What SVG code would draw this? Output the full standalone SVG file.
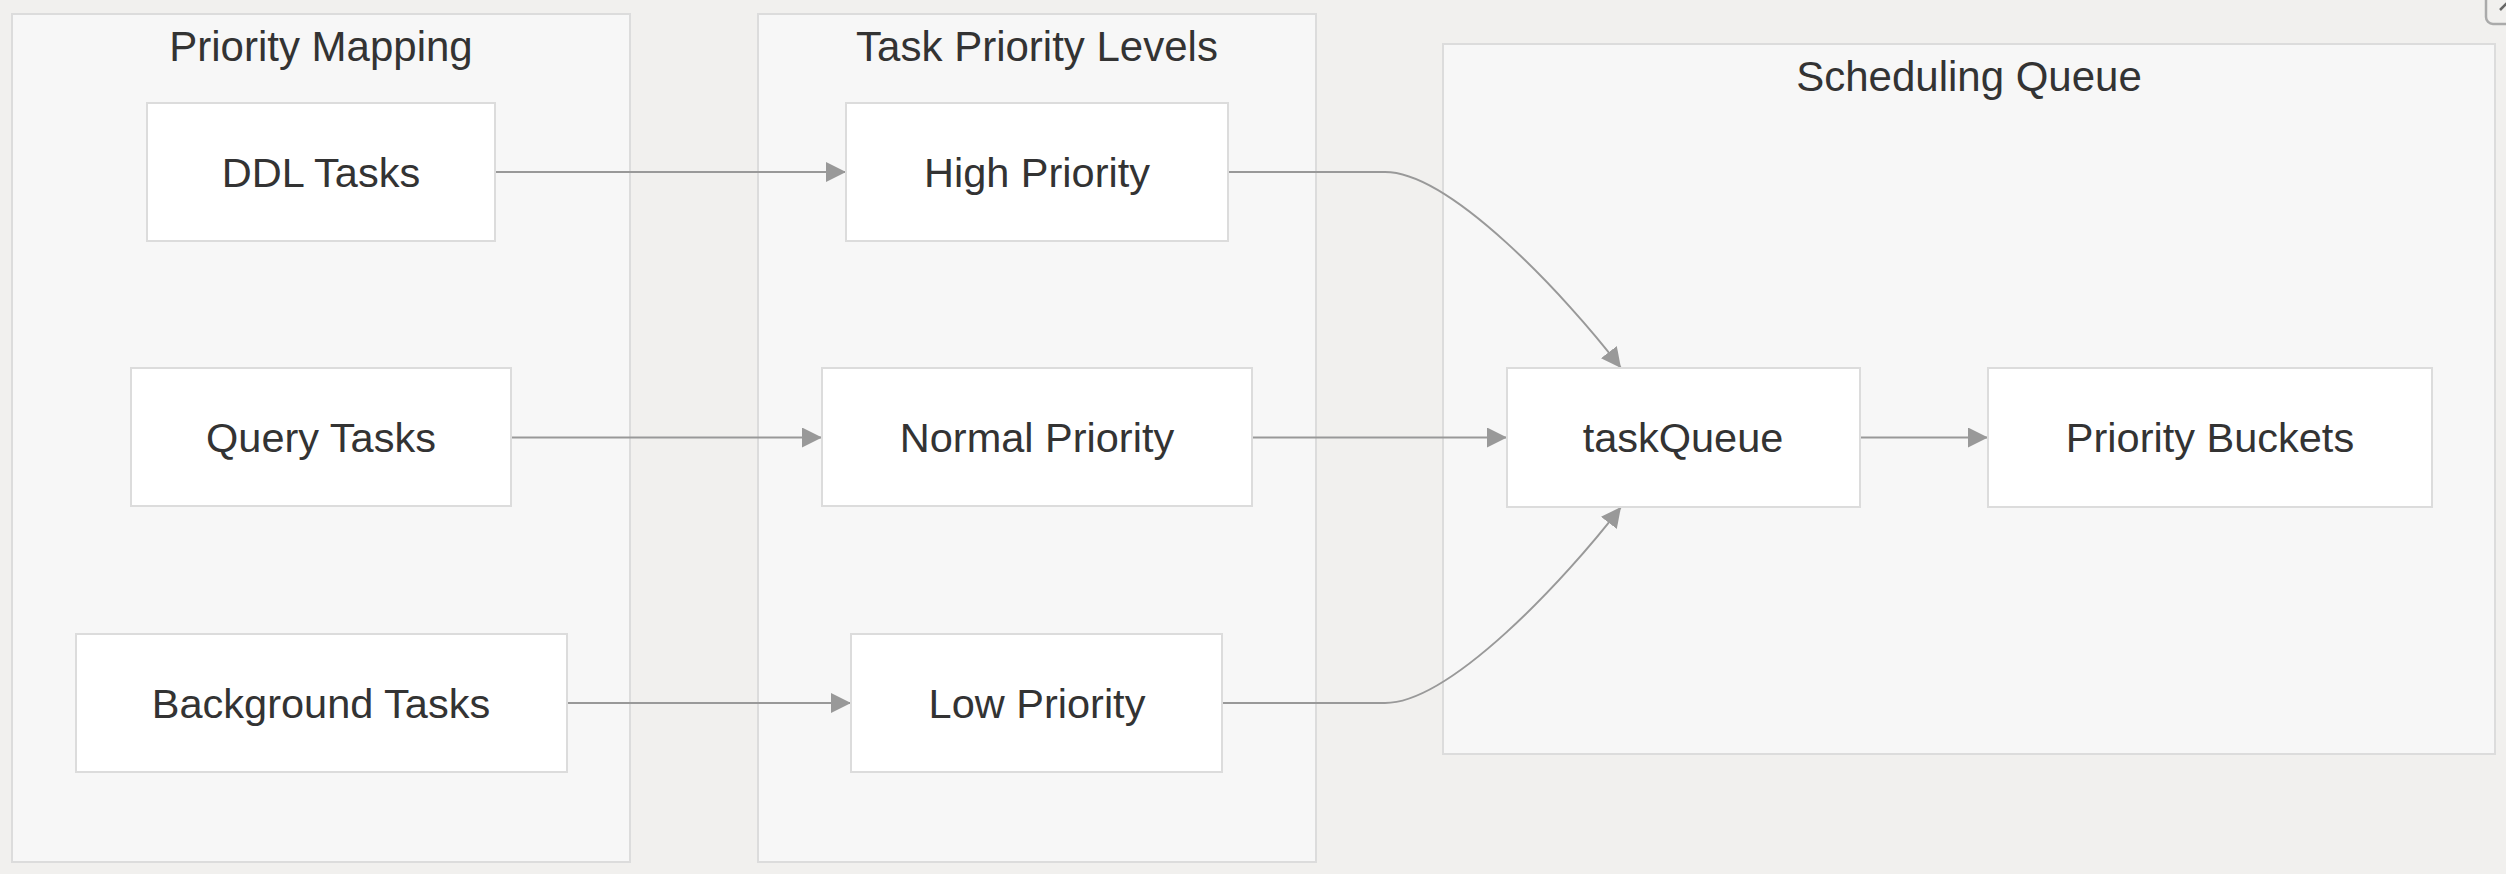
<svg xmlns="http://www.w3.org/2000/svg" width="2506" height="874" viewBox="0 0 2506 874">
<style>
.bg{fill:#f1f0ee}
.cluster{fill:#f7f7f7;stroke:#dcdcdc;stroke-width:2}
.node rect{fill:#ffffff;stroke:#dcdcdc;stroke-width:2}
text{font-family:"Liberation Sans",Arial,sans-serif;font-size:41.5px;fill:#333333;text-anchor:middle}
.title{font-size:42px}
.edge{fill:none;stroke:#999999;stroke-width:2;marker-end:url(#arrow)}
</style>
<defs>
<marker id="arrow" markerUnits="userSpaceOnUse" markerWidth="20" markerHeight="20" refX="20" refY="10" orient="auto">
<path d="M0,0 L20,10 L0,20 z" fill="#999999"/>
</marker>
</defs>
<rect class="bg" x="0" y="0" width="2506" height="874"/>
<g id="cluster-priority-mapping">
<rect class="cluster" x="12" y="14" width="618" height="848"/>
<text class="title" x="321" y="61">Priority Mapping</text>
</g>
<g id="cluster-task-priority-levels">
<rect class="cluster" x="758" y="14" width="558" height="848"/>
<text class="title" x="1037" y="61">Task Priority Levels</text>
</g>
<g id="cluster-scheduling-queue">
<rect class="cluster" x="1443" y="44" width="1052" height="710"/>
<text class="title" x="1969" y="91">Scheduling Queue</text>
</g>
<g id="connectors">
<path class="edge" d="M495,172 L846,172"/>
<path class="edge" d="M511,437.5 L822,437.5"/>
<path class="edge" d="M567,703 L851,703"/>
<path class="edge" d="M1252,437.5 L1507,437.5"/>
<path class="edge" d="M1860,437.5 L1988,437.5"/>
<path class="edge" d="M1228,172 L1385,172 C1450,172 1565,295 1621,368"/>
<path class="edge" d="M1222,703 L1385,703 C1450,703 1565,580 1621,507"/>
</g>
<g id="node-ddl" class="node">
<rect x="147" y="103" width="348" height="138"/>
<text x="321" y="187">DDL Tasks</text>
</g>
<g id="node-query" class="node">
<rect x="131" y="368" width="380" height="138"/>
<text x="321" y="452">Query Tasks</text>
</g>
<g id="node-background" class="node">
<rect x="76" y="634" width="491" height="138"/>
<text x="321" y="718">Background Tasks</text>
</g>
<g id="node-high" class="node">
<rect x="846" y="103" width="382" height="138"/>
<text x="1037" y="187">High Priority</text>
</g>
<g id="node-normal" class="node">
<rect x="822" y="368" width="430" height="138"/>
<text x="1037" y="452">Normal Priority</text>
</g>
<g id="node-low" class="node">
<rect x="851" y="634" width="371" height="138"/>
<text x="1037" y="718">Low Priority</text>
</g>
<g id="node-taskqueue" class="node">
<rect x="1507" y="368" width="353" height="139"/>
<text x="1683" y="452">taskQueue</text>
</g>
<g id="node-buckets" class="node">
<rect x="1988" y="368" width="444" height="139"/>
<text x="2210" y="452">Priority Buckets</text>
</g>
<g id="corner-button">
<rect x="2486" y="-20" width="40" height="44" rx="7" fill="none" stroke="#aaaaaa" stroke-width="2.5"/>
<path d="M2500,10 L2508,2" stroke="#666666" stroke-width="2.5" fill="none"/>
</g>
</svg>
